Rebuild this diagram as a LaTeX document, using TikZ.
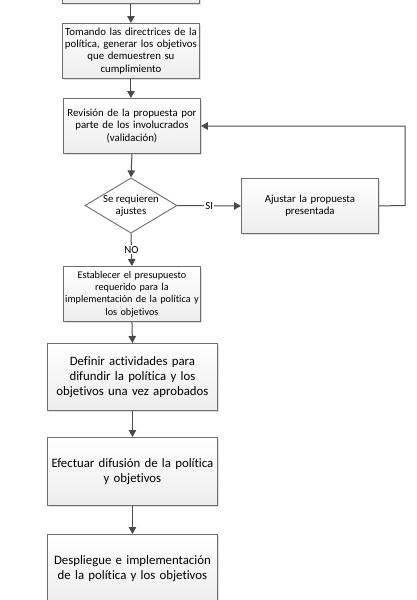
\documentclass[tikz,border=0pt]{standalone}
\usepackage{fontspec}
\setmainfont{Carlito}[Ligatures=CommonOff]
\usetikzlibrary{arrows.meta,shapes.geometric,shadows}
\definecolor{edge}{HTML}{6E6E6E}
\definecolor{conn}{HTML}{4A4A4A}
\tikzset{
  box/.style={draw=edge, line width=0.9pt, top color=white, bottom color=gray!14,
    drop shadow={shadow xshift=2pt, shadow yshift=-2pt, opacity=0.25, fill=gray},
    align=center, inner sep=1pt, anchor=north west, font=\fontsize{10.8}{12.3}\selectfont},
  bigbox/.style={box, font=\fontsize{12.8}{15}\selectfont},
  dec/.style={diamond, aspect=1.65, draw=edge, line width=0.9pt, fill=white,
    inner sep=0pt, align=center, font=\fontsize{10.8}{12.3}\selectfont},
  conn/.style={draw=conn, line width=1pt, -{Triangle[length=7pt,width=7.5pt]}},
  lab/.style={fill=white, inner sep=1pt, font=\fontsize{10.8}{12}\selectfont}
}
\begin{document}
\begin{tikzpicture}[x=1pt,y=-1pt]
\useasboundingbox (0,0) rectangle (417,600);
\clip (0,0) rectangle (417,600);
\node[box, minimum width=137pt, minimum height=53pt] (b1) at (62,-50) {};
\node[box, minimum width=137pt, minimum height=55pt, text width=134pt] (b2) at (62,23)
  {Tomando las directrices de la\\política, generar los objetivos\\que demuestren su\\cumplimiento};
\node[box, minimum width=137pt, minimum height=55pt, text width=134pt] (b3) at (63,98)
  {Revisión de la propuesta por\\parte de los involucrados\\(validación)};
\node[dec, minimum width=92pt, minimum height=55pt] (d) at (131,205.5) {Se requieren\\ajustes};
\node[box, minimum width=137pt, minimum height=55pt, text width=134pt] (b4) at (241,178)
  {Ajustar la propuesta\\presentada};
\node[box, minimum width=137pt, minimum height=55pt, text width=135pt, inner sep=1pt,
  font=\fontsize{10.2}{12.3}\selectfont] (b5) at (63,266)
  {Establecer el presupuesto\\requerido para la\\implementación de la política y\\los objetivos};
\node[bigbox, minimum width=170pt, minimum height=67pt, text width=166pt] (b6) at (47,343)
  {Definir actividades para\\difundir la política y los\\objetivos una vez aprobados};
\node[bigbox, minimum width=170pt, minimum height=68pt, text width=166pt] (b7) at (47,437)
  {Efectuar difusión de la política\\y objetivos};
\node[bigbox, minimum width=170pt, minimum height=68pt, text width=166pt] (b8) at (47,534)
  {Despliegue e implementación\\de la política y los objetivos};
\draw[conn] (b1.south) -- (b2.north);
\draw[conn] (b2.south) -- (b3.north -| b2.south);
\draw[conn] (b3.south) -- (d.north);
\draw[conn] (d.east) -- node[lab, pos=0.5] {SI} (b4.west);
\coordinate (c1) at (405,205.5);
\coordinate (c2) at (405,126);
\draw[conn] (b4.east) -- (c1) -- (c2) -- (b3.east |- c2);
\draw[conn] (d.south) -- node[lab, pos=0.5] {NO} (b5.north);
\draw[conn] (b5.south) -- (b6.north);
\draw[conn] (b6.south) -- (b7.north);
\draw[conn] (b7.south) -- (b8.north);
\end{tikzpicture}
\end{document}
